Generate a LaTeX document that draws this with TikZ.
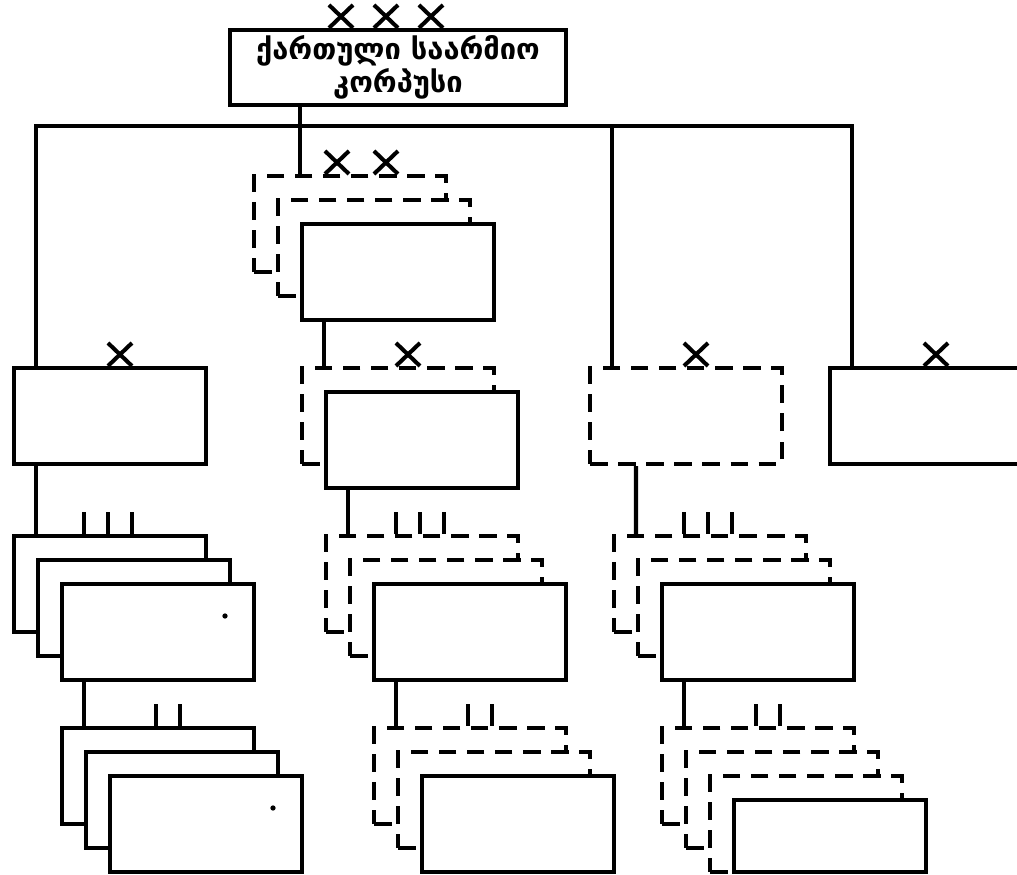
\documentclass[tikz,border=0pt]{standalone}
\usepackage{fontspec}
\newfontfamily\geofont{DejaVu Sans}
\usetikzlibrary{positioning,calc}

\begin{document}
\begin{tikzpicture}[x=0.02cm, y=-0.02cm, line width=2.3pt,
    solidunit/.style={rectangle, draw, fill=white, minimum width=3.84cm, minimum height=1.92cm, inner sep=0pt},
    dashunit/.style={solidunit, dash pattern=on 10pt off 6pt},
    xsign/.pic={\draw (-12,0) -- (12,-23) (-12,-23) -- (12,0);}]
    \useasboundingbox (0,0) rectangle (1017,875);

    % corps
    \node (top) [rectangle, draw, minimum width=6.72cm, minimum height=1.42cm, align=center,
        font=\geofont\bfseries\fontsize{16.5}{15}\selectfont] at (398,67.5) {ქართული საარმიო\\კორპუსი};

    % first row
    \node (b1) [solidunit] at (110,416) {};
    \node (t1a) [dashunit] at (350,224) {};
    \node (t1b) [dashunit] at ($(t1a)+(24,24)$) {};
    \node (t1c) [solidunit] at ($(t1b)+(24,24)$) {};
    \node (t2a) [dashunit] at (398,416) {};
    \node (t2b) [solidunit] at ($(t2a)+(24,24)$) {};
    \node (u1) [dashunit] at (686,416) {};
    \node (v1) [solidunit] at (926,416) {};

    % second row
    \node (g1a) [solidunit] at (110,584) {};
    \node (g1b) [solidunit] at ($(g1a)+(24,24)$) {};
    \node (g1c) [solidunit] at ($(g1b)+(24,24)$) {};
    \node (t3a) [dashunit] at (422,584) {};
    \node (t3b) [dashunit] at ($(t3a)+(24,24)$) {};
    \node (t3c) [solidunit] at ($(t3b)+(24,24)$) {};
    \node (u3a) [dashunit] at (710,584) {};
    \node (u3b) [dashunit] at ($(u3a)+(24,24)$) {};
    \node (u3c) [solidunit] at ($(u3b)+(24,24)$) {};

    % third row
    \node (g2a) [solidunit] at (158,776) {};
    \node (g2b) [solidunit] at ($(g2a)+(24,24)$) {};
    \node (g2c) [solidunit] at ($(g2b)+(24,24)$) {};
    \node (t4a) [dashunit] at (470,776) {};
    \node (t4b) [dashunit] at ($(t4a)+(24,24)$) {};
    \node (t4c) [solidunit] at ($(t4b)+(24,24)$) {};
    \node (u4a) [dashunit] at (758,776) {};
    \node (u4b) [dashunit] at ($(u4a)+(24,24)$) {};
    \node (u4c) [dashunit] at ($(u4b)+(24,24)$) {};
    \node (u4d) [solidunit, minimum height=1.44cm] at (830,836) {};

    % lines
    \draw ([xshift=.48cm]b1.north west) -- ++(0,-240) -| ([xshift=.48cm]v1.north west);
    \draw ([xshift=.48cm]u1.north west) -- ++(0,-240);
    \draw (top.south -| t1c.north west) -- (t1a.north -| t1c.north west);
    \draw ([xshift=.48cm]b1.south west) -- ([xshift=.48cm]g1a.north west);
    \draw ([xshift=.48cm]g1c.south west) -- ([xshift=.48cm]g2a.north west);
    \draw ([xshift=.48cm]t1c.south west) -- ([xshift=.48cm]t2a.north west);
    \draw ([xshift=.48cm]t2b.south west) -- ([xshift=.48cm]t3a.north west);
    \draw ([xshift=.48cm]t3c.south west) -- ([xshift=.48cm]t4a.north west);
    \draw ([xshift=.96cm]u1.south west) -- ([xshift=.48cm]u3a.north west);
    \draw ([xshift=.48cm]u3c.south west) -- ([xshift=.48cm]u4a.north west);

    % size marks
    \foreach \d in {2.26,3.16,4.06}
        \pic at ([xshift=\d cm]top.north west) {xsign};
    \foreach \d in {1.7,2.68}
        \pic at ([xshift=\d cm]t1a.north west) {xsign};
    \foreach \n in {b1,t2a,u1,v1}
        \pic at ([xshift=2.16cm]\n.north west) {xsign};
    \foreach \n in {g1a,t3a,u3a}
        \foreach \d in {1.44,1.92,2.4}
            \draw ([xshift=\d cm]\n.north west) -- ++(0,-22);
    \foreach \n in {g2a,t4a,u4a}
        \foreach \d in {1.92,2.4}
            \draw ([xshift=\d cm]\n.north west) -- ++(0,-22);
    \foreach \n in {g1c,g2c}
        \fill ([shift={(67,-16)}]\n.center) circle (1.5pt);
\end{tikzpicture}
\end{document}
